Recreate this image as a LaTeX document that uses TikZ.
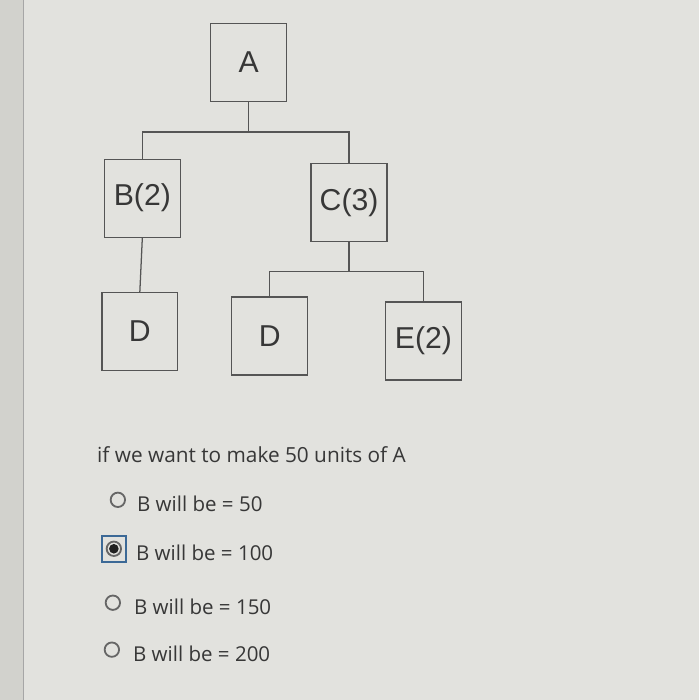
\documentclass[tikz,border=0pt]{standalone}
\usepackage{fontspec}
\setmainfont{Open Sans}
\newfontfamily\boxfont{Liberation Sans}
\usetikzlibrary{positioning, calc}

\definecolor{screen}{RGB}{226,226,222}
\definecolor{strip}{RGB}{210,210,205}
\definecolor{boxline}{RGB}{85,85,85}
\definecolor{ink}{RGB}{55,55,55}
\definecolor{selblue}{RGB}{60,105,150}

\tikzset{
  part/.style={draw=boxline, rectangle, line width=0.9pt, minimum width=1.9cm,
    minimum height=1.95cm, inner sep=0pt, text=ink,
    font=\boxfont\fontsize{21.5}{26}\selectfont},
  link/.style={draw=boxline, line width=0.9pt},
  radio/.style={draw=gray!80!black, circle, line width=1.3pt, minimum size=0.36cm, inner sep=0pt},
  answer/.style={anchor=base west, inner sep=0pt, text=ink, font=\fontsize{14.6}{18}\selectfont}
}

\begin{document}
\begin{tikzpicture}[x=0.025cm, y=-0.025cm]
        \fill[screen] (0,0) rectangle (700,700);
        \fill[strip] (0,0) rectangle (23,700);
        \draw[gray!70, line width=0.6pt] (23,0) -- (23,700);
        \useasboundingbox (0,0) rectangle (700,700);

        \node[part] (A) at (249,62) {A};
        \node[part] (B) at (142.5,198) {B(2)};
        \node[part] (C) at (349.5,202.5) {C(3)};
        \node[part] (D1) at (140,331.5) {D};
        \node[part] (D2) at (270,336) {D};
        \node[part] (E) at (424,341) {E(2)};

        \draw[link] (A.south) -- ++(0,30) coordinate (Abar);
        \draw[link] (Abar) -| (B.north);
        \draw[link] (Abar) -| (C.north);
        \draw[link] (B.south) -- (D1.north);
        \draw[link] (C.south) -- ++(0,29) coordinate (Cbar);
        \draw[link] (Cbar) -| (D2.north);
        \draw[link] (Cbar) -| (E.north);

        \node[answer, font=\fontsize{14.8}{18}\selectfont] (q) at (97,463) {if we want to make 50 units of A};

        \foreach \i/\x/\y/\tx/\val in {1/118/500/137/50, 2/114/549/136/100, 3/113/603/134/150, 4/112/650/133/200}
        {
          \node[radio] (o\i) at (\x,\y) {};
          \node[answer] (t\i) at (\tx,\y+12) {B will be = \val};
        }

        % selected answer
        \node[draw=selblue, rectangle, line width=1.5pt, minimum width=0.6cm, minimum height=0.66cm, inner sep=0pt] (sel) at (o2) {};
        \fill[gray!25!black] (o2) circle (0.12cm);
    \end{tikzpicture}
\end{document}
